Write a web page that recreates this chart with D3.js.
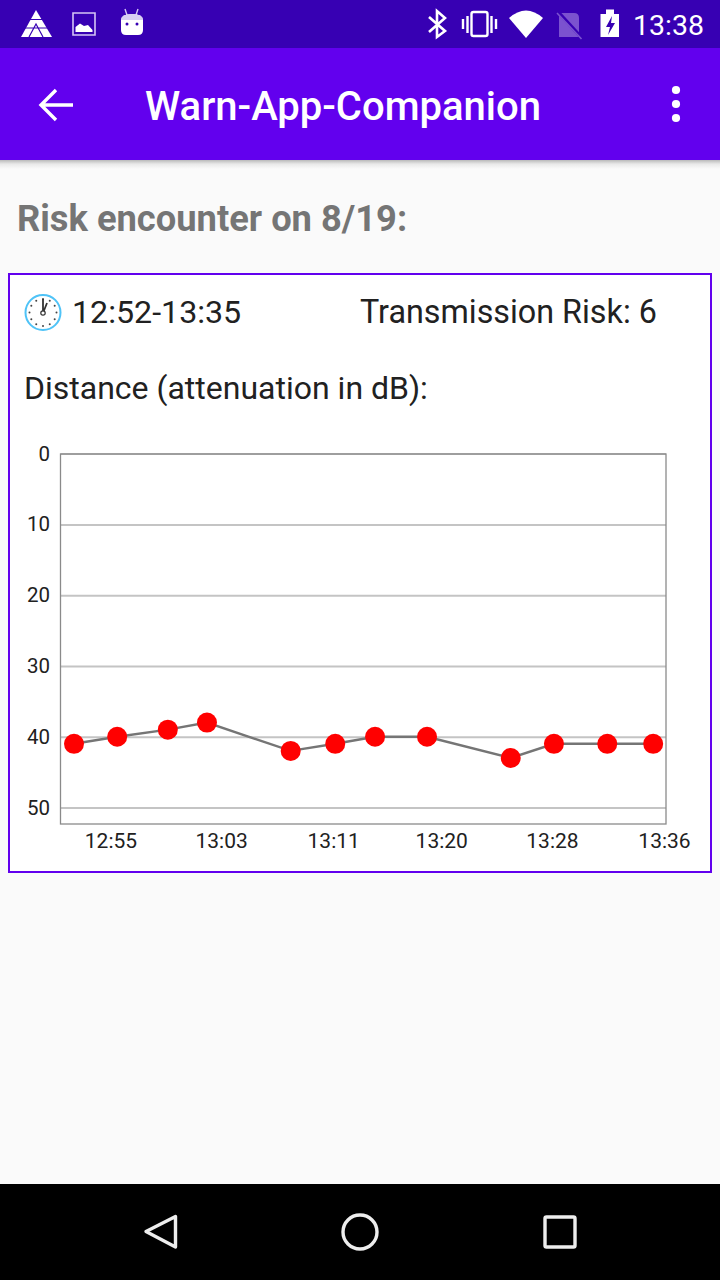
<!DOCTYPE html>
<html><head><meta charset="utf-8">
<script src="https://cdn.jsdelivr.net/npm/d3@7"></script>
<style>
html,body{margin:0;padding:0;background:#fafafa;overflow:hidden}
svg{display:block}
text{font-family:Roboto,sans-serif}
</style></head><body>
<svg id="c" width="720" height="1280"></svg>
<script>
const appTitle = "Warn-App-Companion";
const statusTime = "13:38";
const heading = "Risk encounter on 8/19:";
const timeRange = "12:52-13:35";
const riskLabel = "Transmission Risk: 6";
const chartLabel = "Distance (attenuation in dB):";
// minutes after 12:00
const sampleMinutes = [52.3,55.5,59.25,62.15,68.35,71.65,74.6,78.45,84.65,87.85,91.8,95.2];
const attenuation = [41,40,39,38,42,41,40,40,43,41,41,41];
const yTicks = [0,10,20,30,40,50];
const xTickMinutes = [55,63.2,71.5,79.5,87.7,96];
const xTickLabels = ["12:55","13:03","13:11","13:20","13:28","13:36"];
const xDomain = [51.3,96.15];
const yDomain = [0,52.33];

const svg = d3.select("#c");
const R = (x,y,w,h,f)=>svg.append("rect").attr("x",x).attr("y",y).attr("width",w).attr("height",h).attr("fill",f);
const T = (x,y,s,size,fill,weight,anchor)=>svg.append("text").attr("x",x).attr("y",y).text(s)
  .attr("font-size",size).attr("fill",fill).attr("font-weight",weight||400).attr("text-anchor",anchor||"start");
const P = (d,fill,stroke,sw)=>svg.append("path").attr("d",d).attr("fill",fill||"none").attr("stroke",stroke||"none").attr("stroke-width",sw||0);

// backgrounds
R(0,0,720,1280,"#fafafa");
const defs = svg.append("defs");
const g = defs.append("linearGradient").attr("id","sh").attr("x1",0).attr("x2",0).attr("y1",0).attr("y2",1);
g.append("stop").attr("offset",0).attr("stop-color","#000").attr("stop-opacity",.26);
g.append("stop").attr("offset",.45).attr("stop-color","#000").attr("stop-opacity",.07);
g.append("stop").attr("offset",1).attr("stop-color","#000").attr("stop-opacity",0);
R(0,160,720,9,"url(#sh)");
R(0,48,720,112,"#6200ee");
R(0,0,720,48,"#3700b3");
R(0,1184,720,96,"#000");

// status bar left icons
P("M36 10 L52 37 L21 37 Z","#fff");
P("M25 28H47M30 19.5H42M29 37L36 24L43 37","none","#3700b3",1.2);
P("M73 13H95V35H73Z","none","#d5c5f5",1.6);
P("M75.5 32V27L80 23.5L84 26L88 25L92.5 30V32Z","#fff");
P("M125 9 L127 15M138 9 L136 15","none","#d5c5f5",1.4);
P("M121 20 Q121 14 132 14 Q143 14 143 20 V30 Q143 35 138 35 H126 Q121 35 121 30 Z","#fff");
P("M121 20 Q121 14 132 14 Q143 14 143 20 Z","#d8cdf3");
svg.append("circle").attr("cx",127).attr("cy",24).attr("r",1.5).attr("fill","#3700b3");
svg.append("circle").attr("cx",137).attr("cy",24).attr("r",1.5).attr("fill","#3700b3");

// status bar right icons
P("M429 17L445 31L437 37V11L445 18L429 32","none","#fff",2.6);
svg.append("rect").attr("x",471.5).attr("y",12).attr("width",16).attr("height",24).attr("rx",2).attr("fill","none").attr("stroke","#fff").attr("stroke-width",2.4);
P("M463 19V29M467.5 16V33M491.5 16V33M496 19V29","none","#fff",2.4);
P("M509 18 Q526 3 543 18 L526 38 Z","#fff");
P("M559 13H574Q579 13 579 18V37H559Z","#7b52cf");
P("M559 13L581 37","none","#3700b3",3.4);
P("M557 13L581.5 39","none","#7b52cf",1.6);
P("M606 14V9.5H614V14H619V37H600.5V14Z","#fff");
P("M612 16L606 27H610L608 35L615 23H611Z","#3700b3");
T(704,35,statusTime,28.5,"#fff",400,"end");

// app bar
P("M41 105H73M56 90L41 105L56 120","none","#fff",3.4);
T(145,120,appTitle,40,"#fff",500);
[90,104,118].forEach(cy=>svg.append("circle").attr("cx",676).attr("cy",cy).attr("r",4.1).attr("fill","#fff"));

// heading + card
T(17,231,heading,36.3,"#757575",700);
svg.append("rect").attr("x",9).attr("y",274).attr("width",702).attr("height",598).attr("fill","#fff").attr("stroke","#6200ee").attr("stroke-width",2);

// clock icon
svg.append("circle").attr("cx",43).attr("cy",312.5).attr("r",17.5).attr("fill","#fff").attr("stroke","#4fc3f7").attr("stroke-width",2);
d3.range(12).forEach(i=>{const a=i*Math.PI/6;
  svg.append("circle").attr("cx",43+13.5*Math.sin(a)).attr("cy",312.5-13.5*Math.cos(a)).attr("r",1).attr("fill","#444");});
P("M43 313V299M43 313L47 303","none","#333",1.8);
svg.append("circle").attr("cx",43).attr("cy",313).attr("r",2.2).attr("fill","#fff").attr("stroke","#333").attr("stroke-width",1.2);

T(72,323,timeRange,32.2,"#212121");
T(360,323,riskLabel,32.3,"#212121");
T(24,399,chartLabel,32,"#212121");

// chart
const x = d3.scaleLinear().domain(xDomain).range([60.5,666]);
const y = d3.scaleLinear().domain(yDomain).range([453.6,824]);
const data = sampleMinutes.map((m,i)=>({m,v:attenuation[i]}));

const yg = svg.append("g").attr("transform","translate(60.5,0)")
  .call(d3.axisLeft(y).tickValues(yTicks).tickSize(-605.5).tickPadding(10.5).tickFormat(d3.format("d")));
yg.select(".domain").remove();
yg.selectAll("line").attr("stroke","#c4c4c4").attr("stroke-width",2);
yg.selectAll("text").attr("font-size",20.5).attr("fill","#212121").attr("font-family","Roboto,sans-serif");
yg.selectAll(".tick text").attr("dy",null).attr("y",0).attr("dominant-baseline","auto")
  .attr("transform","translate(0,6.5)");

const xg = svg.append("g").attr("transform","translate(0,824)")
  .call(d3.axisBottom(x).tickValues(xTickMinutes).tickSize(0).tickPadding(9.5).tickFormat((d,i)=>xTickLabels[i]));
xg.select(".domain").remove();
xg.selectAll("text").attr("font-size",21).attr("fill","#212121").attr("font-family","Roboto,sans-serif");

svg.append("rect").attr("x",60.5).attr("y",454).attr("width",605.5).attr("height",370)
  .attr("fill","none").attr("stroke","#8a8a8a").attr("stroke-width",1.3);

svg.append("path").datum(data)
  .attr("d",d3.line().x(d=>x(d.m)).y(d=>y(d.v)))
  .attr("fill","none").attr("stroke","#757575").attr("stroke-width",2.4);
svg.append("g").selectAll("circle").data(data).join("circle")
  .attr("cx",d=>x(d.m)).attr("cy",d=>y(d.v)).attr("r",10).attr("fill","#ff0000");

// nav bar
P("M175.5 1216.5V1247L146 1231.5Z","none","#eee",3.4).attr("stroke-linejoin","round");
svg.append("circle").attr("cx",360).attr("cy",1232).attr("r",17).attr("fill","none").attr("stroke","#eee").attr("stroke-width",3.4);
svg.append("rect").attr("x",545).attr("y",1217).attr("width",30).attr("height",30).attr("rx",1.5).attr("fill","none").attr("stroke","#eee").attr("stroke-width",3.4);
</script>
</body></html>
